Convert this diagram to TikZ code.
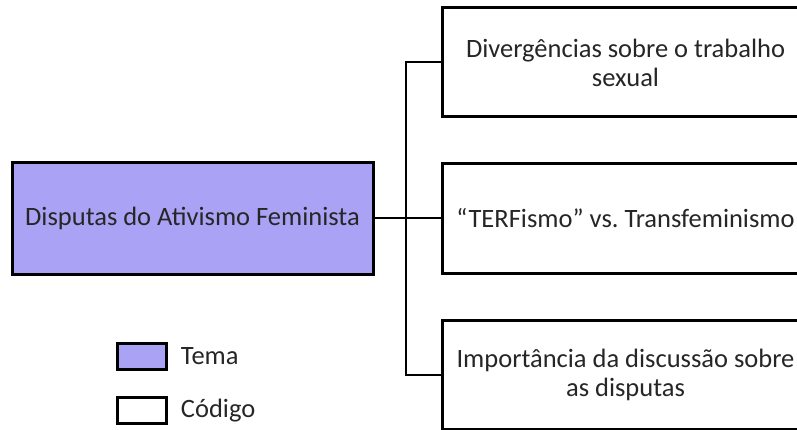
\documentclass[tikz,border=0pt]{standalone}
\usepackage{fontspec}
\setmainfont{Carlito}
\usetikzlibrary{positioning}
\definecolor{temafill}{RGB}{170,162,245}

\begin{document}
\begin{tikzpicture}[
    x=1pt, y=-1pt,
    node distance=44pt,
    box/.style={rectangle, draw=black, line width=3pt, inner sep=0pt, align=center, text=black!85, font=\fontsize{26.5}{29}\selectfont},
    tema/.style={box, fill=temafill, minimum width=361pt, minimum height=111pt},
    codigo/.style={box, fill=white, minimum width=367pt, minimum height=109pt},
    legbox/.style={rectangle, draw=black, line width=2.5pt, minimum width=49pt, minimum height=26pt, inner sep=0pt},
    legtext/.style={right, inner sep=0pt, text=black!85, font=\fontsize{26.5}{29}\selectfont},
    link/.style={line width=2pt}
]
\useasboundingbox (0,0) rectangle (797,430);

% Tema
\node[tema] (disputas) at (192.5,218.5) {Disputas do Ativismo Feminista};

% Codigos
\node[codigo] (trabalho) at (625.5,62.5) {Divergências sobre o trabalho\\sexual};
\node[codigo, below=of trabalho] (terf) {“TERFismo” vs.\ Transfeminismo};
\node[codigo, below=of terf] (importancia) {Importância da discussão sobre\\as disputas};

% Ligacoes
\draw[link] (disputas.east) -- (terf.west);
\draw[link] (trabalho.west) -- ++(-35,0) |- (importancia.west);

% Legenda
\node[legbox, fill=temafill] (legtema) at (142,356.5) {};
\node[legtext] (legtematxt) at (legtema.east) [xshift=13pt] {Tema};
\node[legbox, fill=white] (legcodigo) at (142,410.5) {};
\node[legtext] (legcodigotxt) at (legcodigo.east) [xshift=13pt] {Código};
\end{tikzpicture}
\end{document}
